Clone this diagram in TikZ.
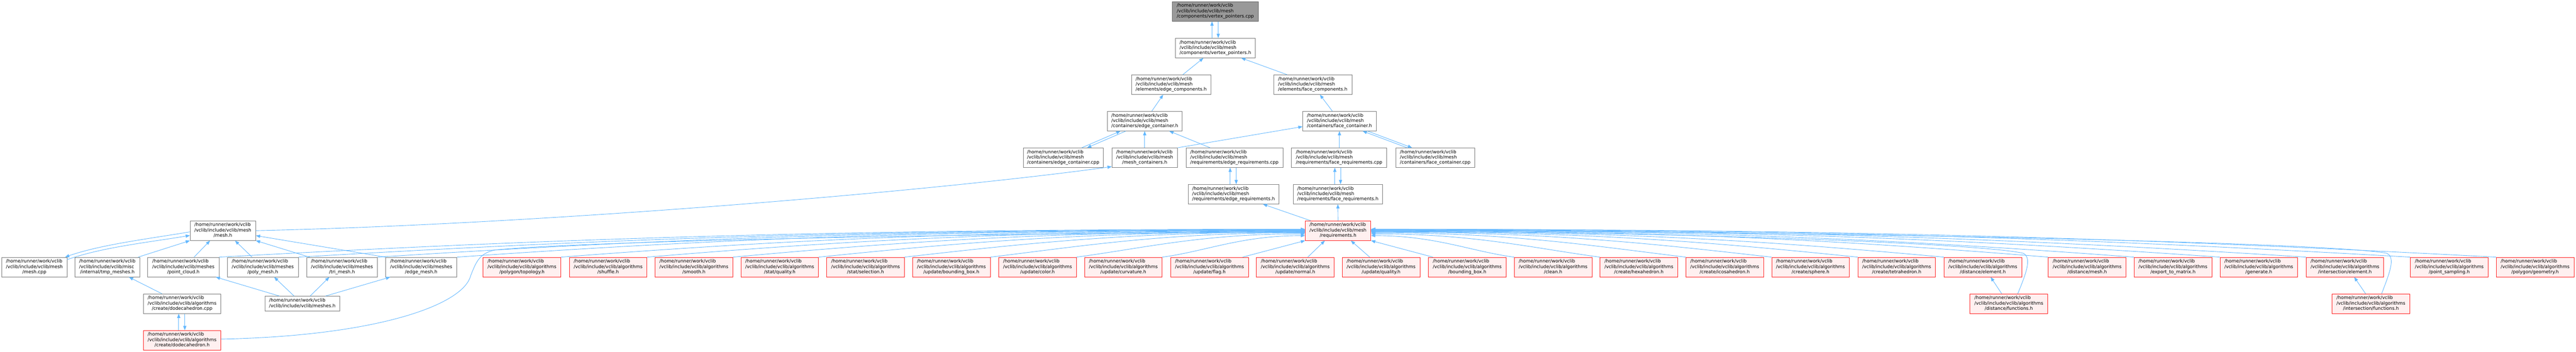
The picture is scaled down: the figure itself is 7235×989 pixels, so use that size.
\documentclass[tikz,border=0pt]{standalone}
\usepackage{fontspec}
\setmainfont{DejaVu Sans}
\usetikzlibrary{arrows.meta,calc}
\definecolor{depc}{HTML}{63B8FF}
\definecolor{nodegray}{HTML}{7A7A7A}
\definecolor{redfill}{HTML}{FFF0F0}
\definecolor{topfill}{HTML}{999999}
\definecolor{topdraw}{HTML}{666666}
\definecolor{redline}{HTML}{FF2020}
\newcommand{\lbl}[2]{\begin{tabular}{@{}l@{}}/home/runner/work/vclib\\#1\\\multicolumn{1}{@{}c@{}}{#2}\end{tabular}}
\newcommand{\dirM}{/vclib/include/vclib/mesh}
\newcommand{\dirA}{/vclib/include/vclib/algorithms}
\newcommand{\dirS}{/vclib/include/vclib/meshes}
\newcommand{\reqedge}[3]{\draw[dep] let \p1=(#1), \p2=(#2) in (\p1) .. controls ({\x1+0.3*(\x2-\x1)},{\y1+#3pt}) and ({\x2-0.45*(\x2-\x1)},{\y2}) .. (\p2);}
\begin{document}
\begin{tikzpicture}[x=1pt,y=-1pt,
  wbox/.style={draw=nodegray, fill=white, line width=1.1pt, inner sep=0pt, minimum height=55pt, font=\fontsize{12.9}{15}\selectfont},
  rbox/.style={wbox, draw=redline, fill=redfill},
  alg/.style={rbox, minimum width=218pt},
  dep/.style={draw=depc, line width=1.3pt, -{Triangle[length=12pt,width=9pt]}}]
\fill[white] (0,0) rectangle (7235,989);
\useasboundingbox (0,0) rectangle (7235,989);
% upper part
\node[wbox, fill=topfill, draw=topdraw, minimum width=241pt] (top) at (3413.5,32) {\lbl{\dirM}{/components/vertex\_pointers.cpp}};
\node[wbox, minimum width=225pt] (vph) at (3413.5,135) {\lbl{\dirM}{/components/vertex\_pointers.h}};
\node[wbox, minimum width=223pt] (ecc) at (3289.5,238) {\lbl{\dirM}{/elements/edge\_components.h}};
\node[wbox, minimum width=220pt] (fcc) at (3687,238) {\lbl{\dirM}{/elements/face\_components.h}};
\node[wbox, minimum width=210pt] (ecn) at (3215,340.5) {\lbl{\dirM}{/containers/edge\_container.h}};
\node[wbox, minimum width=206pt] (fcn) at (3762,340.5) {\lbl{\dirM}{/containers/face\_container.h}};
\node[wbox, minimum width=224pt] (eccpp) at (2986,443.5) {\lbl{\dirM}{/containers/edge\_container.cpp}};
\node[wbox, minimum width=184pt] (mcont) at (3215,443.5) {\lbl{\dirM}{/mesh\_containers.h}};
\node[wbox, minimum width=272pt] (ercpp) at (3467,443.5) {\lbl{\dirM}{/requirements/edge\_requirements.cpp}};
\node[wbox, minimum width=268pt] (frcpp) at (3761,443.5) {\lbl{\dirM}{/requirements/face\_requirements.cpp}};
\node[wbox, minimum width=222pt] (fccpp) at (4031,443.5) {\lbl{\dirM}{/containers/face\_container.cpp}};
\node[wbox, minimum width=255pt] (erh) at (3464.5,546) {\lbl{\dirM}{/requirements/edge\_requirements.h}};
\node[wbox, minimum width=251pt] (frh) at (3757.5,546) {\lbl{\dirM}{/requirements/face\_requirements.h}};
\node[rbox, minimum width=184pt] (req) at (3758,648.5) {\lbl{\dirM}{/requirements.h}};
\node[wbox, minimum width=184pt] (meshh) at (626,648.5) {\lbl{\dirM}{/mesh.h}};
% main row
\node[wbox, minimum width=183pt] (meshcpp) at (96.5,751) {\lbl{\dirM}{/mesh.cpp}};
\node[wbox, minimum width=181pt] (tmp) at (301.5,751) {\lbl{/vclib/include/vclib/misc}{/internal/tmp\_meshes.h}};
\node[wbox, minimum width=200pt] (pc) at (515,751) {\lbl{\dirS}{/point\_cloud.h}};
\node[wbox, minimum width=200pt] (poly) at (738,751) {\lbl{\dirS}{/poly\_mesh.h}};
\node[wbox, minimum width=199pt] (tri) at (960.5,751) {\lbl{\dirS}{/tri\_mesh.h}};
\node[wbox, minimum width=200pt] (edgem) at (1183,751) {\lbl{\dirS}{/edge\_mesh.h}};
\node[alg] (topo) at (1466,751) {\lbl{\dirA}{/polygon/topology.h}};
\node[alg] (shuffle) at (1708,751) {\lbl{\dirA}{/shuffle.h}};
\node[alg] (smooth) at (1949,751) {\lbl{\dirA}{/smooth.h}};
\node[alg] (squality) at (2190,751) {\lbl{\dirA}{/stat/quality.h}};
\node[alg] (sselection) at (2431,751) {\lbl{\dirA}{/stat/selection.h}};
\node[alg] (ubbox) at (2672,751) {\lbl{\dirA}{/update/bounding\_box.h}};
\node[alg] (ucolor) at (2914,751) {\lbl{\dirA}{/update/color.h}};
\node[alg] (ucurv) at (3155,751) {\lbl{\dirA}{/update/curvature.h}};
\node[alg] (uflag) at (3397,751) {\lbl{\dirA}{/update/flag.h}};
\node[alg] (unormal) at (3638,751) {\lbl{\dirA}{/update/normal.h}};
\node[alg] (uquality) at (3879,751) {\lbl{\dirA}{/update/quality.h}};
\node[alg] (bbox) at (4121,751) {\lbl{\dirA}{/bounding\_box.h}};
\node[alg] (clean) at (4362,751) {\lbl{\dirA}{/clean.h}};
\node[alg] (hexa) at (4603,751) {\lbl{\dirA}{/create/hexahedron.h}};
\node[alg] (icosa) at (4844,751) {\lbl{\dirA}{/create/icosahedron.h}};
\node[alg] (sphere) at (5085,751) {\lbl{\dirA}{/create/sphere.h}};
\node[alg] (tetra) at (5327,751) {\lbl{\dirA}{/create/tetrahedron.h}};
\node[alg] (distel) at (5569,751) {\lbl{\dirA}{/distance/element.h}};
\node[alg] (distmesh) at (5862,751) {\lbl{\dirA}{/distance/mesh.h}};
\node[alg] (export) at (6103,751) {\lbl{\dirA}{/export\_to\_matrix.h}};
\node[alg] (generate) at (6344,751) {\lbl{\dirA}{/generate.h}};
\node[alg] (interel) at (6586,751) {\lbl{\dirA}{/intersection/element.h}};
\node[alg] (psamp) at (6879,751) {\lbl{\dirA}{/point\_sampling.h}};
\node[alg] (geom) at (7120,751) {\lbl{\dirA}{/polygon/geometry.h}};
% bottom
\node[wbox, minimum width=217pt] (dodcpp) at (511.5,854) {\lbl{\dirA}{/create/dodecahedron.cpp}};
\node[wbox, minimum width=210pt, minimum height=41pt] (meshes) at (849,853.5) {\begin{tabular}{@{}l@{}}/home/runner/work/vclib\\\multicolumn{1}{@{}c@{}}{/vclib/include/vclib/meshes.h}\end{tabular}};
\node[rbox, minimum width=217pt] (dodh) at (511.5,956.5) {\lbl{\dirA}{/create/dodecahedron.h}};
\node[alg] (distfunc) at (5642,854) {\lbl{\dirA}{/distance/functions.h}};
\node[alg] (interfunc) at (6659,854) {\lbl{\dirA}{/intersection/functions.h}};
% edges upper
\draw[dep] ($(vph.north)+(-9.5,0)$) -- ($(top.south)+(-9.5,0)$);
\draw[dep] ($(top.south)+(8,0)$) -- ($(vph.north)+(8,0)$);
\draw[dep] ($(ecc.north)+(32.5,0)$) -- ($(vph.south)+(-33.5,0)$);
\draw[dep] ($(fcc.north)+(-72,0)$) -- ($(vph.south)+(72.5,0)$);
\draw[dep] ($(ecn.north)+(20,0)$) -- ($(ecc.south)+(-22.5,0)$);
\draw[dep] ($(fcn.north)+(-20,0)$) -- ($(fcc.south)+(20,0)$);
\draw[dep] ($(eccpp.north)+(52,0)$) -- ($(ecn.south)+(-68,0)$);
\draw[dep] ($(ecn.south)+(-53,0)$) -- ($(eccpp.north)+(67,0)$);
\draw[dep] (mcont.north) -- (ecn.south);
\draw[dep] ($(ercpp.north)+(-68,0)$) -- ($(ecn.south)+(69,0)$);
\draw[dep] (mcont.north east) -- ($(fcn.west)+(0,15.5)$);
\draw[dep] ($(frcpp.north)+(1,0)$) -- (fcn.south);
\draw[dep] ($(fccpp.north)+(-79,0)$) -- ($(fcn.south)+(65,0)$);
\draw[dep] ($(fcn.south)+(79,0)$) -- ($(fccpp.north)+(-65,0)$);
\draw[dep] ($(erh.north)+(-9.5,0)$) -- ($(ercpp.south)+(-12,0)$);
\draw[dep] ($(ercpp.south)+(5,0)$) -- ($(erh.north)+(7.5,0)$);
\draw[dep] ($(frh.north)+(-8.5,0)$) -- ($(frcpp.south)+(-12,0)$);
\draw[dep] ($(frcpp.south)+(4,0)$) -- ($(frh.north)+(7.5,0)$);
\draw[dep] ($(req.north)+(-77,0)$) -- ($(erh.south)+(82.5,0)$);
\draw[dep] (req.north) -- (frh.south);
\draw[dep] (meshh.east) .. controls +(782,-17) and +(-523,72) .. ($(mcont.south west)+(0,-3)$);
% mesh.h cluster
\draw[dep] ($(meshcpp.north east)+(0,7)$) .. controls +(100,-35) and +(-120,20) .. ($(meshh.west)+(0,13.5)$);
\draw[dep] ($(meshh.west)+(0,3.5)$) .. controls +(-120,20) and +(100,-35) .. ($(meshcpp.north east)+(-6,0)$);
\draw[dep] ($(tmp.north)+(86.5,0)$) -- (meshh.south west);
\draw[dep] ($(pc.north)+(30,0)$) -- ($(meshh.south)+(-36,0)$);
\draw[dep] ($(poly.north)+(-30,0)$) -- ($(meshh.south)+(34,0)$);
\draw[dep] ($(tri.north)+(-91.5,0)$) -- (meshh.south east);
\draw[dep] (edgem.north west) -- ($(meshh.east)+(0,14)$);
\draw[dep] ($(meshes.north)+(-64,0)$) -- ($(pc.south)+(91,0)$);
\draw[dep] ($(meshes.north)+(-23,0)$) -- ($(poly.south)+(32,0)$);
\draw[dep] ($(meshes.north)+(22,0)$) -- ($(tri.south)+(-35.5,0)$);
\draw[dep] ($(meshes.north)+(65,0)$) -- ($(edgem.south)+(-87,0)$);
\draw[dep] ($(dodcpp.north)+(-56.5,0)$) -- ($(tmp.south)+(60.5,0)$);
\draw[dep] ($(dodh.north)+(-9.5,0)$) -- ($(dodcpp.south)+(-9.5,0)$);
\draw[dep] ($(dodcpp.south)+(7.5,0)$) -- ($(dodh.north)+(7.5,0)$);
\draw[dep] ($(dodh.east)+(0,-3)$) .. controls (1050,945) and (1300,860) .. (1322,775) .. controls (1336,740) and (1345,712) .. (1390,703) .. controls (1600,680) and (2700,655) .. ($(req.west)+(0,5)$);
% fan into requirements.h
\reqedge{pc.north east}{$(req.west)+(0,-4)$}{50}
\reqedge{poly.north east}{$(req.west)+(0,-3)$}{50}
\reqedge{tri.north east}{$(req.west)+(0,-2)$}{50}
\reqedge{edgem.north east}{$(req.west)+(0,-1)$}{50}
\reqedge{topo.north east}{$(req.west)+(0,0)$}{48}
\reqedge{shuffle.north east}{$(req.west)+(0,1)$}{46}
\reqedge{smooth.north east}{$(req.west)+(0,2)$}{44}
\reqedge{squality.north east}{$(req.west)+(0,3)$}{42}
\reqedge{sselection.north east}{$(req.west)+(0,4)$}{38}
\reqedge{ubbox.north east}{$(req.west)+(0,6)$}{32}
\reqedge{ucolor.north east}{$(req.west)+(0,9)$}{26}
\reqedge{ucurv.north east}{$(req.west)+(0,14)$}{16}
\draw[dep] ($(uflag.north)+(93,0)$) -- (req.south west);
\draw[dep] ($(unormal.north)+(35,0)$) -- ($(req.south)+(-37,0)$);
\draw[dep] ($(uquality.north)+(-32,0)$) -- ($(req.south)+(36,0)$);
\draw[dep] ($(bbox.north west)+(13,0)$) -- (req.south east);
\reqedge{clean.north west}{$(req.east)+(0,14)$}{16}
\reqedge{hexa.north west}{$(req.east)+(0,9)$}{26}
\reqedge{icosa.north west}{$(req.east)+(0,6)$}{32}
\reqedge{sphere.north west}{$(req.east)+(0,4)$}{38}
\reqedge{tetra.north west}{$(req.east)+(0,3)$}{42}
\reqedge{distel.north west}{$(req.east)+(0,2)$}{44}
\reqedge{distmesh.north west}{$(req.east)+(0,0)$}{46}
\reqedge{export.north west}{$(req.east)+(0,-1)$}{48}
\reqedge{generate.north west}{$(req.east)+(0,-2)$}{50}
\reqedge{interel.north west}{$(req.east)+(0,-3)$}{50}
\reqedge{psamp.north west}{$(req.east)+(0,-4)$}{50}
\reqedge{geom.north west}{$(req.east)+(0,-4)$}{50}
\draw[dep] ($(distfunc.north)+(-20,0)$) -- ($(distel.south)+(22,0)$);
\draw[dep] ($(distfunc.north)+(25,0)$) .. controls (5690,770) and (5708,724) .. (5682,712) .. controls (5560,684) and (4700,652) .. ($(req.east)+(0,1)$);
\draw[dep] ($(interfunc.north)+(-15,0)$) -- ($(interel.south)+(26,0)$);
\draw[dep] ($(interfunc.north)+(30,0)$) .. controls (6710,770) and (6730,724) .. (6703,712) .. controls (6560,684) and (5300,652) .. ($(req.east)+(0,-1)$);
\end{tikzpicture}
\end{document}
